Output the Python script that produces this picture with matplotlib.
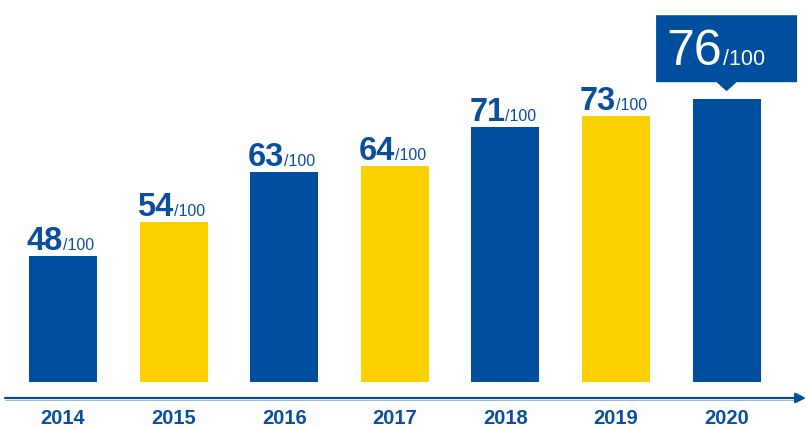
import matplotlib.pyplot as plt
from matplotlib.patches import Polygon
from matplotlib.font_manager import FontProperties

years = ["2014", "2015", "2016", "2017", "2018", "2019", "2020"]
scores = [48, 54, 63, 64, 71, 73, 76]
bar_colors = ["#004f9f", "#fdd000", "#004f9f", "#fdd000", "#004f9f", "#fdd000", "#004f9f"]

BLUE = "#004f9f"
TEXT_BLUE = "#0a4f9e"
BASE = 25.5          # score where the bars start
PX_X = 1 / 110.6     # one pixel in x data units
PX_Y = 1 / 5.6       # one pixel in y data units

fig = plt.figure(figsize=(8.06, 4.28), dpi=100)
ax = fig.add_axes([0, 0, 1, 1])
ax.set_xlim(-63 * PX_X, (806 - 63) * PX_X)
ax.set_ylim(BASE - 46 * PX_Y, BASE + (428 - 46) * PX_Y)
ax.axis("off")

x = list(range(len(years)))
heights = [s - BASE for s in scores]
ax.bar(x, heights, bottom=BASE, width=68 * PX_X, color=bar_colors, zorder=2)

# score labels above bars
for i, s in enumerate(scores[:-1]):
    ax.annotate(str(s), (i, s), xytext=(0, 4.5), textcoords="offset points",
                ha="right", va="baseline", fontsize=23.5, fontweight="bold",
                color=TEXT_BLUE, family="Liberation Sans")
    ax.annotate("/100", (i, s), xytext=(0, 4.5), textcoords="offset points",
                ha="left", va="baseline", fontsize=11.5,
                color=TEXT_BLUE, family="Liberation Sans")

# callout for last year
i = len(scores) - 1
top = scores[-1]
tip = top + 8 * PX_Y
box_bottom = tip + 9 * PX_Y
box_top = box_bottom + 67 * PX_Y
half_w = 70.5 * PX_X
box = Polygon([(i - half_w, box_bottom), (i - 10 * PX_X, box_bottom), (i, tip),
               (i + 10 * PX_X, box_bottom), (i + half_w, box_bottom),
               (i + half_w, box_top), (i - half_w, box_top)],
              closed=True, facecolor=BLUE, edgecolor="none", zorder=3)
ax.add_patch(box)
base_y = box_bottom + 17 * PX_Y
ax.text(i - 4 * PX_X, base_y, str(top), ha="right", va="baseline", fontsize=36,
        color="white", family="Liberation Sans", zorder=4)
ax.text(i - 4 * PX_X, base_y, "/100", ha="left", va="baseline", fontsize=15.5,
        color="white", family="Liberation Sans", zorder=4)

# timeline arrow
ax.annotate("", xy=(1.0, 30 / 428), xytext=(5 / 806, 30 / 428),
            xycoords="axes fraction", textcoords="axes fraction",
            arrowprops=dict(arrowstyle="-|>,head_length=0.6,head_width=0.3",
                            color=BLUE, lw=1.6, shrinkA=0, shrinkB=0))
ax.plot([5 / 806, 0.99], [28.5 / 428, 28.5 / 428], transform=ax.transAxes,
        color="#9fb8d8", lw=0.8)

year_font = FontProperties(family=["Liberation Sans Narrow", "Liberation Sans"],
                           weight="bold", size=14.5)
for i, yr in enumerate(years):
    ax.text(i, 9 / 428, yr, transform=ax.get_xaxis_transform(), ha="center",
            va="center", color=TEXT_BLUE, fontproperties=year_font)

fig.savefig("out.png", dpi=100)
